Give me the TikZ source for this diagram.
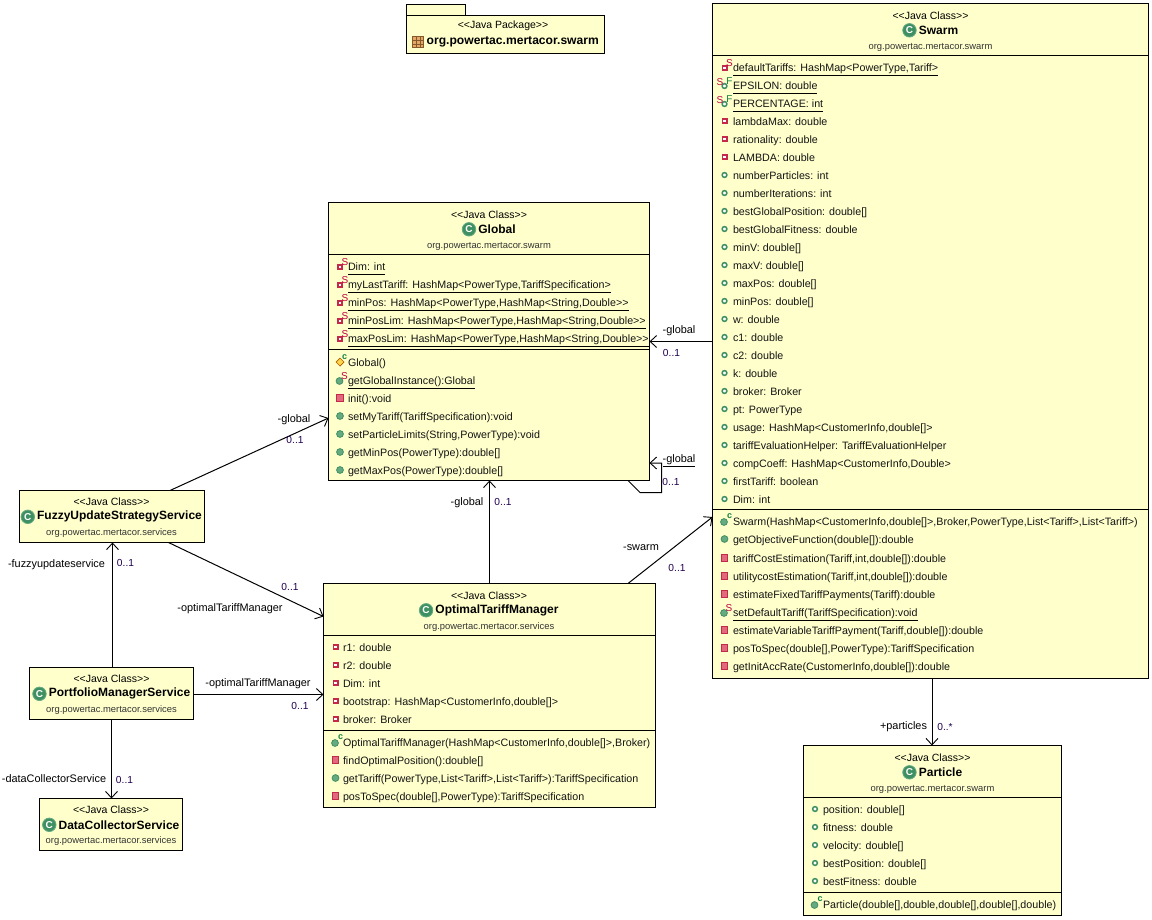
\documentclass[tikz,border=0pt]{standalone}
\usepackage{fontspec}
\newfontfamily\umlfont{Liberation Sans}
\usetikzlibrary{arrows.meta}
\definecolor{boxfill}{HTML}{FFFFCC}
\definecolor{pubgreen}{HTML}{3E8F62}
\definecolor{pubfill}{HTML}{66AA82}
\definecolor{privred}{HTML}{C4284A}
\definecolor{privfill}{HTML}{E06A7C}
\definecolor{staticred}{HTML}{C00040}
\definecolor{ctorgreen}{HTML}{108040}
\definecolor{multcol}{HTML}{200050}
\tikzset{
  x=1pt,y=-1pt,
  classbox/.style={draw=black,fill=boxfill,line width=1pt,inner sep=0pt,outer sep=0pt,anchor=north west},
  sepline/.style={draw=black,line width=1pt},
  rowtext/.style={anchor=west,inner sep=0pt,outer sep=0pt,text height=8pt,text depth=0pt,font=\umlfont\fontsize{10.7}{12}\selectfont,text=black!92},
  stereo/.style={inner sep=0pt,font=\umlfont\fontsize{10.5}{12}\selectfont,text=black},
  pkg/.style={inner sep=0pt,font=\umlfont\fontsize{9.4}{11}\selectfont,text=black!80},
  title/.style={inner sep=0pt,font=\umlfont\bfseries\fontsize{12}{14}\selectfont,text=black},
  cicon/.style={circle,fill=pubgreen,draw=pubfill,line width=.8pt,inner sep=0pt,minimum size=13.5pt,text=white,font=\umlfont\bfseries\fontsize{10}{10}\selectfont},
  flag/.style={inner sep=0pt,font=\umlfont\fontsize{10}{10}\selectfont},
  assoc/.style={draw=black,line width=1pt,-{Straight Barb[length=6.5pt,width=12pt,line width=.9pt]}},
  lab/.style={inner sep=0pt,text height=8pt,text depth=0pt,font=\umlfont\fontsize{10.9}{12}\selectfont,text=black},
  mult/.style={inner sep=0pt,text height=8pt,text depth=0pt,font=\umlfont\fontsize{10.2}{12}\selectfont,text=multcol},
}
\newcount\rowid
\newcommand\nextrow{\global\advance\rowid by 1 }
\newcommand\rowtxt[3]{\nextrow\node[rowtext] (t\the\rowid) at (#1,#2) {#3};}
\newcommand\rowund[3]{\rowtxt{#1}{#2}{#3}\draw[line width=1pt] ([yshift=-8.5pt]t\the\rowid.west) -- ([yshift=-8.5pt]t\the\rowid.east);}
\newcommand\sflag[2]{\nextrow\node[flag,text=staticred] (f\the\rowid) at (#1,#2) {S};}
\newcommand\fflag[2]{\nextrow\node[flag,text=ctorgreen] (f\the\rowid) at (#1,#2) {F};}
\newcommand\cflag[2]{\nextrow\node[flag,text=ctorgreen,font=\umlfont\bfseries\fontsize{9}{9}\selectfont] (f\the\rowid) at (#1,#2) {c};}
% icons
\newcommand\ipf[2]{\fill[privred] ({#1-3},{#2-3}) rectangle ({#1+3},{#2+3});\fill[white] ({#1-1.2},{#2-1.2}) rectangle ({#1+1.2},{#2+1.2});}
\newcommand\ipubf[2]{\draw[pubgreen,fill=white,line width=1.5pt] (#1,#2) circle[radius=2.4];}
\newcommand\iprm[2]{\draw[privred,fill=privfill,line width=.8pt] ({#1-3.2},{#2-3.2}) rectangle ({#1+3.2},{#2+3.2});}
\newcommand\ipubm[2]{\draw[pubgreen,fill=pubfill,line width=.8pt] (#1,#2) circle[radius=3.4];}
% rows: \tx text x, \ix icon x
\newcommand\rowpf[2]{\ipf{\ix}{#1}\rowtxt{\tx}{#1}{#2}}
\newcommand\rowpub[2]{\ipubf{\ix}{#1}\rowtxt{\tx}{#1}{#2}}
\newcommand\rowprm[2]{\iprm{\ix}{#1}\rowtxt{\tx}{#1}{#2}}
\newcommand\rowpm[2]{\ipubm{\ix}{#1}\rowtxt{\tx}{#1}{#2}}
\newcommand\rowspf[2]{\ipf{\ix}{#1+1}\sflag{\ix+5}{#1-4}\rowund{\tx}{#1}{#2}}
\newcommand\rowsf[2]{\ipubf{\ix}{#1+1}\sflag{\ix-4.5}{#1-2.5}\fflag{\ix+5}{#1-4}\rowund{\tx}{#1}{#2}}
\newcommand\rowsm[2]{\ipubm{\ix-.5}{#1+1}\sflag{\ix+4.5}{#1-4}\rowund{\tx}{#1}{#2}}
\newcommand\rowctor[2]{\ipubm{\ix-.5}{#1+1}\cflag{\ix+5}{#1-5}\rowtxt{\tx}{#1}{#2}}
% header: name, centre x, top, title, package
\newcommand\classhead[5]{%
  \node[stereo] (#1st) at (#2,{#3+12}) {<<Java Class>>};
  \node[title] (#1ti) at ({#2+8},{#3+26.8}) {#4};
  \node[cicon,anchor=east] (#1ic) at ([xshift=-2pt]#1ti.west) {C};
  \node[pkg] (#1pk) at (#2,{#3+43.5}) {#5};
}
\begin{document}
\begin{tikzpicture}
\useasboundingbox (0,0) rectangle (1152,919);

% package
\fill[boxfill,draw=black,line width=1pt] (406.5,4.5) rectangle (465.5,15.5);
\node[classbox,minimum width=198pt,minimum height=38pt] (pack) at (406.5,15.5) {};
\node[stereo] (packst) at (503,26) {<<Java Package>>};
\node[inner sep=0pt,anchor=west,font=\umlfont\bfseries\fontsize{12.1}{14}\selectfont] (packti) at (426.5,42) {org.powertac.mertacor.swarm};
\draw[draw=brown!70!black,fill=orange!45!brown!70,line width=.8pt] (412.5,36.5) rectangle (423.5,47.5);
\draw[draw=brown!70!black,line width=.5pt] (416.2,36.5) -- (416.2,47.5) (419.8,36.5) -- (419.8,47.5) (412.5,40.2) -- (423.5,40.2) (412.5,43.8) -- (423.5,43.8);

% Swarm
\node[classbox,minimum width=436pt,minimum height=675pt] (swarm) at (712.5,3.5) {};
\classhead{swarm}{930.5}{3.5}{Swarm}{org.powertac.mertacor.swarm}
\draw[sepline] (swarm.west |- 0,55.5) -- (swarm.east |- 0,55.5);
\draw[sepline] (swarm.west |- 0,509.5) -- (swarm.east |- 0,509.5);
\def\tx{733}\def\ix{724.5}
\rowspf{67}{defaultTariffs: HashMap<PowerType,Tariff>}
\rowsf{85}{EPSILON: double}
\rowsf{103}{PERCENTAGE: int}
\rowpf{121}{lambdaMax: double}
\rowpf{139}{rationality: double}
\rowpf{157}{LAMBDA: double}
\rowpub{175}{numberParticles: int}
\rowpub{193}{numberIterations: int}
\rowpub{211}{bestGlobalPosition: double[]}
\rowpub{229}{bestGlobalFitness: double}
\rowpub{247}{minV: double[]}
\rowpub{265}{maxV: double[]}
\rowpub{283}{maxPos: double[]}
\rowpub{301}{minPos: double[]}
\rowpub{319}{w: double}
\rowpub{337}{c1: double}
\rowpub{355}{c2: double}
\rowpub{373}{k: double}
\rowpub{391}{broker: Broker}
\rowpub{409}{pt: PowerType}
\rowpub{427}{usage: HashMap<CustomerInfo,double[]>}
\rowpub{445}{tariffEvaluationHelper: TariffEvaluationHelper}
\rowpub{463}{compCoeff: HashMap<CustomerInfo,Double>}
\rowpub{481}{firstTariff: boolean}
\rowpub{499}{Dim: int}
\rowctor{521}{Swarm(HashMap<CustomerInfo,double[]>,Broker,PowerType,List<Tariff>,List<Tariff>)}
\rowpm{539}{getObjectiveFunction(double[]):double}
\rowprm{558}{tariffCostEstimation(Tariff,int,double[]):double}
\rowprm{576}{utilitycostEstimation(Tariff,int,double[]):double}
\rowprm{594}{estimateFixedTariffPayments(Tariff):double}
\rowsm{612}{setDefaultTariff(TariffSpecification):void}
\rowprm{630}{estimateVariableTariffPayment(Tariff,double[]):double}
\rowprm{648}{posToSpec(double[],PowerType):TariffSpecification}
\rowprm{666}{getInitAccRate(CustomerInfo,double[]):double}

% Global
\node[classbox,minimum width=321pt,minimum height=278pt] (global) at (328.5,202.5) {};
\classhead{global}{489}{202.5}{Global}{org.powertac.mertacor.swarm}
\draw[sepline] (global.west |- 0,254.5) -- (global.east |- 0,254.5);
\draw[sepline] (global.west |- 0,349.5) -- (global.east |- 0,349.5);
\def\tx{348}\def\ix{340}
\rowspf{266}{Dim: int}
\rowspf{284}{myLastTariff: HashMap<PowerType,TariffSpecification>}
\rowspf{302}{minPos: HashMap<PowerType,HashMap<String,Double>>}
\rowspf{320}{minPosLim: HashMap<PowerType,HashMap<String,Double>>}
\rowspf{338}{maxPosLim: HashMap<PowerType,HashMap<String,Double>>}
\draw[draw=orange!70!black,fill=yellow!60!orange!70,line width=.7pt] (340,358) -- (344,362) -- (340,366) -- (336,362) -- cycle;
\cflag{344.5}{357}
\rowtxt{\tx}{362}{Global()}
\rowsm{380}{getGlobalInstance():Global}
\rowprm{398}{init():void}
\rowpm{416}{setMyTariff(TariffSpecification):void}
\rowpm{434}{setParticleLimits(String,PowerType):void}
\rowpm{452}{getMinPos(PowerType):double[]}
\rowpm{470}{getMaxPos(PowerType):double[]}

% FuzzyUpdateStrategyService
\node[classbox,minimum width=185pt,minimum height=52pt] (fuzzy) at (19.5,490.5) {};
\classhead{fuzzy}{111.5}{490}{FuzzyUpdateStrategyService}{org.powertac.mertacor.services}

% PortfolioManagerService
\node[classbox,minimum width=164pt,minimum height=52pt] (port) at (29.5,667.5) {};
\classhead{port}{111.5}{667}{PortfolioManagerService}{org.powertac.mertacor.services}

% DataCollectorService
\node[classbox,minimum width=143pt,minimum height=52pt] (data) at (39.5,798.5) {};
\classhead{data}{111}{798}{DataCollectorService}{org.powertac.mertacor.services}

% OptimalTariffManager
\node[classbox,minimum width=332pt,minimum height=224pt] (optim) at (323.5,583.5) {};
\classhead{optim}{489}{583.5}{OptimalTariffManager}{org.powertac.mertacor.services}
\draw[sepline] (optim.west |- 0,635.5) -- (optim.east |- 0,635.5);
\draw[sepline] (optim.west |- 0,730.5) -- (optim.east |- 0,730.5);
\def\tx{343}\def\ix{335.5}
\rowpf{647}{r1: double}
\rowpf{665}{r2: double}
\rowpf{683}{Dim: int}
\rowpf{701}{bootstrap: HashMap<CustomerInfo,double[]>}
\rowpf{719}{broker: Broker}
\rowctor{742}{OptimalTariffManager(HashMap<CustomerInfo,double[]>,Broker)}
\rowprm{760}{findOptimalPosition():double[]}
\rowpm{778}{getTariff(PowerType,List<Tariff>,List<Tariff>):TariffSpecification}
\rowprm{796}{posToSpec(double[],PowerType):TariffSpecification}

% Particle
\node[classbox,minimum width=258pt,minimum height=170pt] (part) at (803.5,745.5) {};
\classhead{part}{932.5}{745.5}{Particle}{org.powertac.mertacor.swarm}
\draw[sepline] (part.west |- 0,797.5) -- (part.east |- 0,797.5);
\draw[sepline] (part.west |- 0,892.5) -- (part.east |- 0,892.5);
\def\tx{823}\def\ix{815}
\rowpub{809}{position: double[]}
\rowpub{827}{fitness: double}
\rowpub{845}{velocity: double[]}
\rowpub{863}{bestPosition: double[]}
\rowpub{881}{bestFitness: double}
\rowctor{904}{Particle(double[],double,double[],double[],double)}

% connectors
\draw[assoc] ([xshift=150.5pt]fuzzy.north west) -- ([yshift=-215.5pt]global.north west);
\draw[assoc] ([xshift=149pt]fuzzy.south west) -- ([yshift=-33pt]optim.north west);
\draw[assoc] ([xshift=83pt]port.north west) -- ([xshift=93pt]fuzzy.south west);
\draw[assoc] ([yshift=-27pt]port.north east) -- ([yshift=-111pt]optim.north west);
\draw[assoc] ([xshift=82pt]port.south west) -- ([xshift=72pt]data.north west);
\draw[assoc] ([xshift=166pt]optim.north west) -- ([xshift=161pt]global.south west);
\draw[assoc] ([xshift=304.5pt]optim.north west) -- ([yshift=-513.5pt]swarm.north west);
\draw[assoc] ([yshift=-338pt]swarm.north west) -- ([yshift=-139pt]global.north east);
\coordinate (selfa) at (640,492.5);
\coordinate (selfb) at (661.5,492.5);
\coordinate (selfc) at (661.5,463);
\draw[assoc] ([xshift=-21.5pt]global.south east) -- (selfa) -- (selfb) -- (selfc) -- ([yshift=-260.5pt]global.north east);
\draw[assoc] ([xshift=219.5pt]swarm.south west) -- ([xshift=128.5pt]part.north west);

% connector labels
\node[lab] (l1) at (294,418) {-global};
\node[mult] (m1) at (295,439) {0..1};
\node[mult] (m2) at (290,586) {0..1};
\node[lab] (l2) at (230,607) {-optimalTariffManager};
\node[lab] (l3) at (56.5,563) {-fuzzyupdateservice};
\node[mult] (m3) at (125.5,562) {0..1};
\node[lab] (l4) at (258,682) {-optimalTariffManager};
\node[mult] (m4) at (300,705) {0..1};
\node[lab] (l5) at (54,778) {-dataCollectorService};
\node[mult] (m5) at (124.5,779) {0..1};
\node[lab] (l6) at (467,501) {-global};
\node[mult] (m6) at (503,501) {0..1};
\node[lab] (l7) at (641,546) {-swarm};
\node[mult] (m7) at (677,567) {0..1};
\node[lab] (l8) at (679,329) {-global};
\node[mult] (m8) at (671.5,352) {0..1};
\node[lab] (l9) at (679,458) {-global};
\draw[line width=1pt] (663,466.5) -- (695,466.5);
\node[mult] (m9) at (671,481) {0..1};
\node[lab] (l10) at (903.5,725) {+particles};
\node[mult] (m10) at (945,726) {0..*};
\end{tikzpicture}
\end{document}
